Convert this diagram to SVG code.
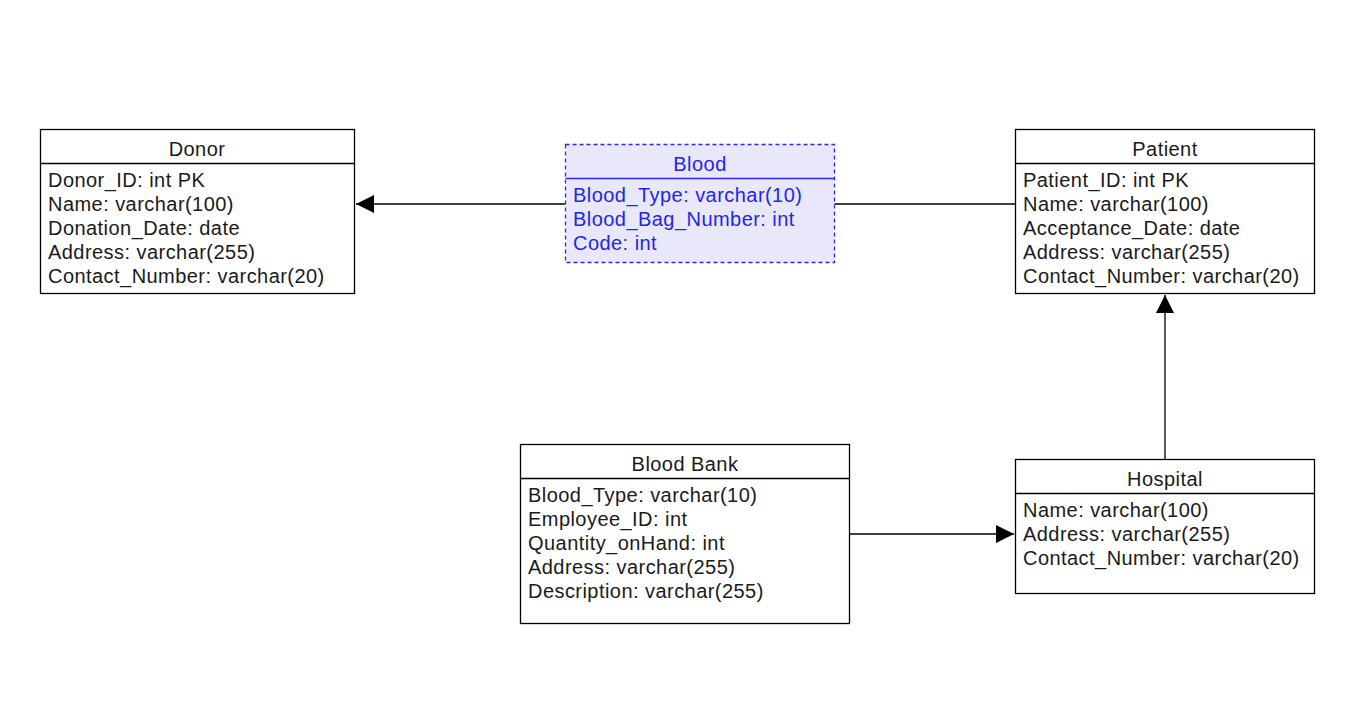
<svg xmlns="http://www.w3.org/2000/svg" width="1369" height="715" viewBox="0 0 1369 715">
<style>
.box{fill:#ffffff;stroke:#000000;stroke-width:1.3}
.sep{stroke:#000000;stroke-width:1.3}
.t{font-family:"Liberation Sans",Arial,sans-serif;font-size:20px;letter-spacing:0.45px;fill:#1a1a1a}
.h{text-anchor:middle}
.bbox{fill:#e8e8fa;stroke:#2b2bf0;stroke-width:1.3;stroke-dasharray:4 3}
.bsep{stroke:#2b2bf0;stroke-width:1.3}
.bt{fill:#2424ee}
.c{stroke:#000000;stroke-width:1.3;fill:none}
</style>
<defs>
<marker id="arr" viewBox="0 0 18 18" refX="18" refY="9" markerWidth="18" markerHeight="18" markerUnits="userSpaceOnUse" orient="auto">
<path d="M0,0 L18,9 L0,18 Z" fill="#000000"/>
</marker>
</defs>
<rect width="1369" height="715" fill="#ffffff"/>
<g id="connectors">
<line class="c" x1="565" y1="204" x2="356" y2="204" marker-end="url(#arr)"/>
<line class="c" x1="834" y1="204" x2="1015" y2="204"/>
<line class="c" x1="1165" y1="459" x2="1165" y2="295" marker-end="url(#arr)"/>
<line class="c" x1="849" y1="534" x2="1014" y2="534" marker-end="url(#arr)"/>
</g>
<g id="donor">
<rect class="box" x="40.5" y="129.5" width="314" height="164"/>
<line class="sep" x1="40.5" y1="163.5" x2="354.5" y2="163.5"/>
<text class="t h" x="197" y="156">Donor</text>
<text class="t" x="48" y="187">Donor_ID: int PK</text>
<text class="t" x="48" y="211">Name: varchar(100)</text>
<text class="t" x="48" y="235">Donation_Date: date</text>
<text class="t" x="48" y="259">Address: varchar(255)</text>
<text class="t" x="48" y="283">Contact_Number: varchar(20)</text>
</g>
<g id="blood">
<rect class="bbox" x="565.5" y="144.5" width="269" height="118"/>
<line class="bsep" x1="565.5" y1="178.5" x2="834.5" y2="178.5"/>
<text class="t h bt" x="700" y="171">Blood</text>
<text class="t bt" x="573" y="202">Blood_Type: varchar(10)</text>
<text class="t bt" x="573" y="226">Blood_Bag_Number: int</text>
<text class="t bt" x="573" y="250">Code: int</text>
</g>
<g id="patient">
<rect class="box" x="1015.5" y="129.5" width="299" height="164"/>
<line class="sep" x1="1015.5" y1="163.5" x2="1314.5" y2="163.5"/>
<text class="t h" x="1165" y="156">Patient</text>
<text class="t" x="1023" y="187">Patient_ID: int PK</text>
<text class="t" x="1023" y="211">Name: varchar(100)</text>
<text class="t" x="1023" y="235">Acceptance_Date: date</text>
<text class="t" x="1023" y="259">Address: varchar(255)</text>
<text class="t" x="1023" y="283">Contact_Number: varchar(20)</text>
</g>
<g id="bloodbank">
<rect class="box" x="520.5" y="444.5" width="329" height="179"/>
<line class="sep" x1="520.5" y1="478.5" x2="849.5" y2="478.5"/>
<text class="t h" x="685" y="471">Blood Bank</text>
<text class="t" x="528" y="502">Blood_Type: varchar(10)</text>
<text class="t" x="528" y="526">Employee_ID: int</text>
<text class="t" x="528" y="550">Quantity_onHand: int</text>
<text class="t" x="528" y="574">Address: varchar(255)</text>
<text class="t" x="528" y="598">Description: varchar(255)</text>
</g>
<g id="hospital">
<rect class="box" x="1015.5" y="459.5" width="299" height="134"/>
<line class="sep" x1="1015.5" y1="493.5" x2="1314.5" y2="493.5"/>
<text class="t h" x="1165" y="486">Hospital</text>
<text class="t" x="1023" y="517">Name: varchar(100)</text>
<text class="t" x="1023" y="541">Address: varchar(255)</text>
<text class="t" x="1023" y="565">Contact_Number: varchar(20)</text>
</g>
</svg>
